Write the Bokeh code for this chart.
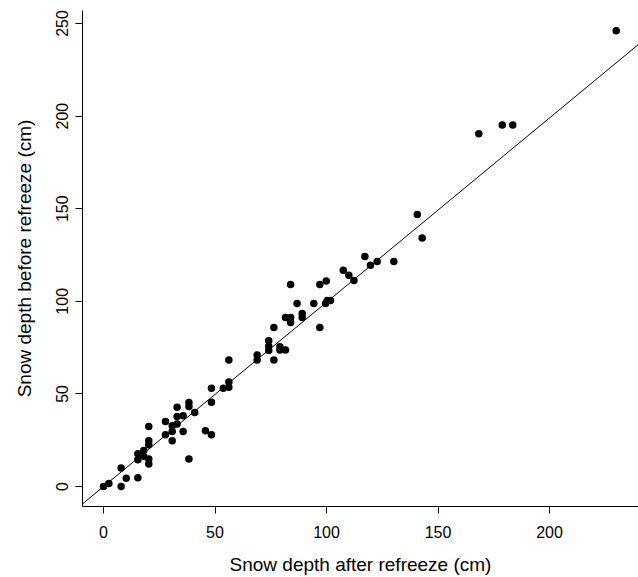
from bokeh.plotting import figure
from bokeh.models import Range1d, FixedTicker, Slope
from bokeh.embed import file_html
from bokeh.resources import INLINE

# Snow depth after refreeze (cm)
after_cm = [0, 2.4, 7.9, 7.9, 10.2, 15.4, 15.4, 15.4, 18, 18,
            20.3, 20.3, 20.3, 20.3, 20.3, 27.8, 27.8, 30.8, 30.8, 30.8,
            33, 33, 33, 35.7, 35.7, 38.3, 38.3, 38.3, 40.9, 45.7,
            48.4, 48.4, 48.4, 53.7, 56.2, 56.2, 56.2, 68.9, 68.9, 74.1,
            74.1, 74.1, 76.4, 76.4, 79.1, 79.1, 81.6, 81.6, 83.9, 83.9,
            83.9, 86.8, 89.1, 89.1, 94.3, 97, 97, 99.9, 99.6, 100.3,
            101.8, 107.5, 110, 112.3, 117.2, 119.7, 122.7, 130.2, 140.7, 142.9,
            168.3, 178.8, 183.5, 229.9]
# Snow depth before refreeze (cm)
before_cm = [0, 1.6, 10, 0, 4.5, 4.7, 17.7, 14.5, 19.5, 16.3,
             32.4, 24.7, 22.6, 14.9, 12.2, 35.1, 28, 29.7, 24.7, 32.8,
             42.8, 37.8, 33.7, 38.2, 29.7, 45.3, 43.2, 14.9, 40, 30.1,
             28, 53.1, 45.5, 53.1, 53.6, 56.4, 68.3, 71, 68.3, 78.7,
             75.8, 73.5, 85.9, 68.3, 75.4, 73.7, 73.7, 91.2, 109.1, 91.2,
             88.5, 98.8, 93.4, 91.2, 98.8, 109.1, 85.9, 110.9, 98.8, 100.5,
             100.5, 116.7, 114, 111.3, 124.2, 119.4, 121.5, 121.5, 146.8, 134.2,
             190.5, 195.2, 195.2, 246.1]

x_ticks = [0, 50, 100, 150, 200]
y_ticks = [0, 50, 100, 150, 200, 250]
fit_slope = 0.995
fit_intercept = 0.0

FONT = "Liberation Sans"

p = figure(width=638, height=577, output_backend="svg", toolbar_location=None,
           x_range=Range1d(-9.42, 239.9), y_range=Range1d(-10.78, 257.0),
           min_border_left=82, min_border_right=0, min_border_top=10,
           min_border_bottom=70)
p.outline_line_color = None
p.xgrid.visible = False
p.ygrid.visible = False
p.background_fill_color = "white"
p.border_fill_color = "white"

p.scatter(after_cm, before_cm, size=7.5, fill_color="black", line_color=None)
p.add_layout(Slope(gradient=fit_slope, y_intercept=fit_intercept,
                   line_color="black", line_width=1))

p.xaxis.ticker = FixedTicker(ticks=x_ticks)
p.yaxis.ticker = FixedTicker(ticks=y_ticks)
p.yaxis.major_label_orientation = "vertical"
p.xaxis.axis_label = "Snow depth after refreeze (cm)"
p.yaxis.axis_label = "Snow depth before refreeze (cm)"
for ax in (p.xaxis, p.yaxis):
    ax.axis_line_color = "black"
    ax.axis_line_width = 1
    ax.major_tick_line_color = "black"
    ax.major_tick_in = 0
    ax.major_tick_out = 7
    ax.minor_tick_line_color = None
    ax.major_label_text_font = FONT
    ax.major_label_text_font_size = "16px"
    ax.major_label_text_color = "black"
    ax.axis_label_text_font = FONT
    ax.axis_label_text_font_size = "19px"
    ax.axis_label_text_font_style = "normal"
    ax.axis_label_text_color = "black"
p.xaxis.major_label_standoff = 12
p.xaxis.axis_label_standoff = 13
p.yaxis.major_label_standoff = 7
p.yaxis.axis_label_standoff = 19

open("out.html", "w").write(file_html(p, INLINE))
